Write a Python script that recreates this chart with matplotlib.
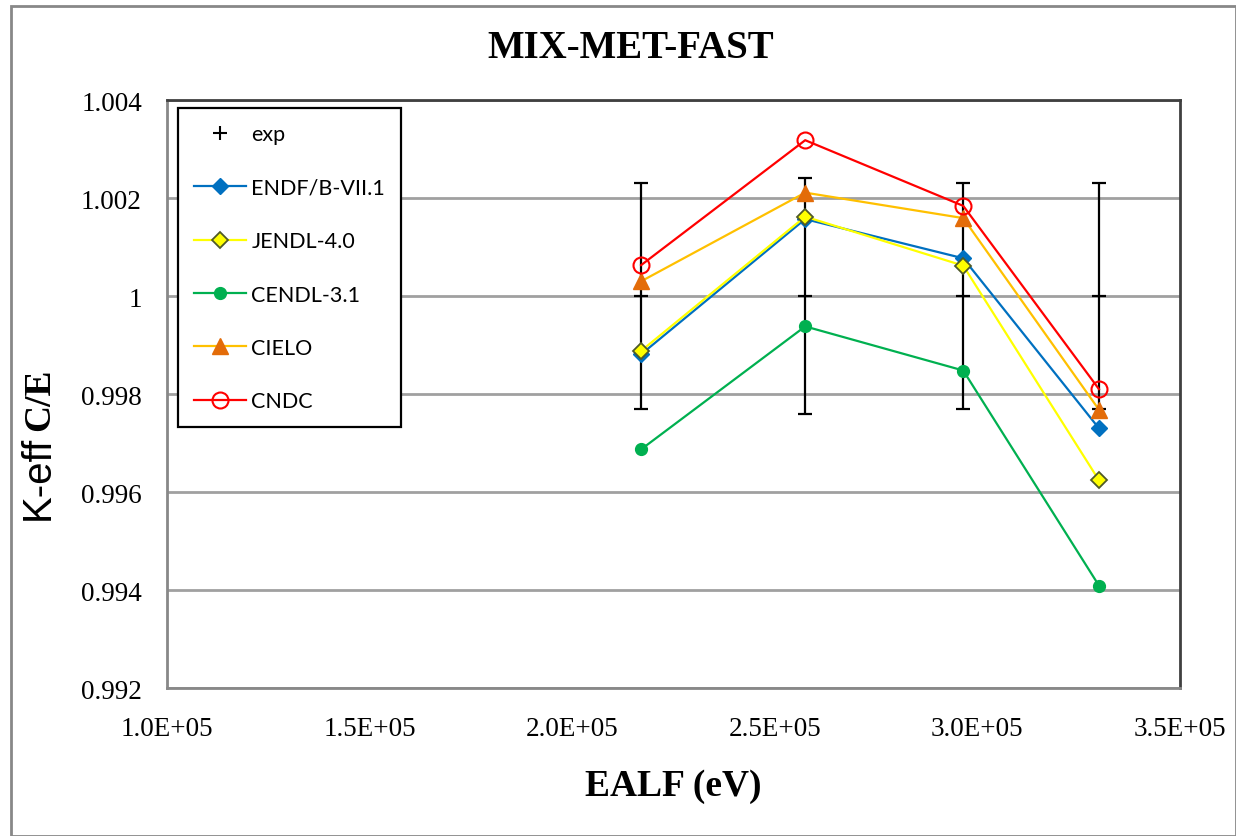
import numpy as np
import matplotlib
matplotlib.use('Agg')
import matplotlib.pyplot as plt
from matplotlib.patches import Rectangle
from matplotlib.ticker import FuncFormatter

# EALF (eV) of the four benchmarks
ealf = [2.17e5, 2.575e5, 2.965e5, 3.30e5]

exp_val = [1.0, 1.0, 1.0, 1.0]
exp_err = [0.0023, 0.0024, 0.0023, 0.0023]

endf = [0.99881, 1.00157, 1.00077, 0.99730]
jendl = [0.99888, 1.00162, 1.00062, 0.99624]
cendl = [0.99687, 0.99938, 0.99848, 0.99409]
cielo = [1.00030, 1.00211, 1.00159, 0.99768]
cndc = [1.00063, 1.00318, 1.00184, 0.99810]


def PlotKeff():

    fig = plt.figure(figsize=(12.36, 8.37), dpi=100)
    ax = fig.add_axes([0.1351, 0.1768, 0.8196, 0.7025])

    serif = 'Liberation Serif'

    # exp error bars + centre mark
    ax.errorbar(ealf, exp_val, yerr=exp_err, fmt='none', ecolor='black',
                elinewidth=1.6, capsize=5, capthick=1.6, zorder=2)
    ax.plot(ealf, exp_val, linestyle='none', marker='_', markersize=10,
            markeredgewidth=1.6, color='black', zorder=2)
    ax.plot([], [], linestyle='none', marker='+', markersize=10,
            markeredgewidth=1.5, color='black', label='exp')

    ax.plot(ealf, endf, color='#0070C0', lw=1.6, marker='D', markersize=8.5,
            markerfacecolor='#0070C0', markeredgecolor='#0070C0', label='ENDF/B-VII.1', zorder=3)
    ax.plot(ealf, jendl, color='#FFFF00', lw=1.6, marker='D', markersize=8.5,
            markerfacecolor='#FFFF00', markeredgecolor='#4F5A28', markeredgewidth=1.3,
            label='JENDL-4.0', zorder=4)
    ax.plot(ealf, cendl, color='#00B050', lw=1.6, marker='o', markersize=8.5,
            markerfacecolor='#00B050', markeredgecolor='#00B050', label='CENDL-3.1', zorder=3)
    ax.plot(ealf, cielo, color='#FFC000', lw=1.6, marker='^', markersize=11,
            markerfacecolor='#E36C09', markeredgecolor='#E36C09', label='CIELO', zorder=4)
    ax.plot(ealf, cndc, color='#FF0000', lw=1.6, marker='o', markersize=11.5,
            markerfacecolor='none', markeredgecolor='#FF0000', markeredgewidth=1.5,
            label='CNDC', zorder=5)

    ax.set_xlim(1.0e5, 3.5e5)
    ax.set_ylim(0.992, 1.004)
    ax.set_xticks(np.arange(1.0e5, 3.51e5, 0.5e5))
    ax.set_yticks(np.linspace(0.992, 1.004, 7))
    ax.xaxis.set_major_formatter(FuncFormatter(lambda v, p: f'{v:.1E}'))
    ax.yaxis.set_major_formatter(FuncFormatter(lambda v, p: f'{v:g}'))
    ax.tick_params(length=0, labelsize=19.5)
    ax.tick_params(axis='y', pad=18)
    ax.tick_params(axis='x', pad=20)
    for lab in ax.get_xticklabels() + ax.get_yticklabels():
        lab.set_fontfamily(serif)

    ax.grid(axis='y', color='#A0A0A0', lw=2)
    ax.set_axisbelow(True)
    for side in ['top', 'right']:
        ax.spines[side].set_color('#404040')
        ax.spines[side].set_linewidth(2)
    for side in ['left', 'bottom']:
        ax.spines[side].set_color('#888888')
        ax.spines[side].set_linewidth(2)

    fig.text(631 / 1236, 1 - 48 / 837, 'MIX-MET-FAST', fontsize=28, fontweight='bold',
             family=serif, ha='center', va='center')
    fig.text(673 / 1236, 1 - 787 / 837, 'EALF (eV)', fontsize=27, fontweight='bold',
             family=serif, ha='center', va='center')
    fig.text(38 / 1236, 1 - 478 / 837, 'K-eff', fontsize=29, family='Liberation Sans',
             rotation=90, ha='center', va='center')
    fig.text(40 / 1236, 1 - 400 / 837, 'C/E', fontsize=27, fontweight='bold', family=serif,
             rotation=90, ha='center', va='center')

    leg = ax.legend(loc='upper left', bbox_to_anchor=(0.011, 0.986), borderaxespad=0,
                    fancybox=False, edgecolor='black', framealpha=1,
                    prop={'family': 'Lato', 'size': 15.5}, handlelength=2.4,
                    handletextpad=0.25, labelspacing=1.55, borderpad=0.75)
    leg.get_frame().set_linewidth(1.6)

    # outer chart border
    fig.patches.append(Rectangle((11 / 1236, 0), 1 - 11 / 1236, 1 - 7 / 837,
                                 transform=fig.transFigure, fill=False,
                                 edgecolor='#888888', lw=2))

    plt.savefig('out.png', dpi=100)

    return 0


PlotKeff()
